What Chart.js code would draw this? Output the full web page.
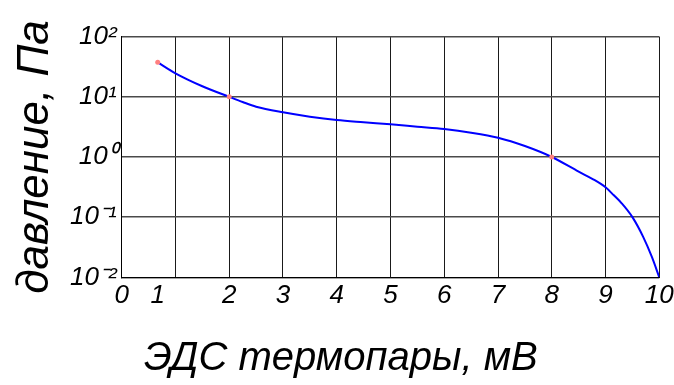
<!DOCTYPE html>
<html>
<head>
<meta charset="utf-8">
<script src="https://cdn.jsdelivr.net/npm/chart.js@4"></script>
<style>
    html, body { margin: 0; padding: 0; background: #fff; }
    #wrap { width: 674px; height: 385px; }
</style>
</head>
<body>
<div id="wrap"><canvas id="chart" width="674" height="385"></canvas></div>
<script>
// ЭДС термопары, мВ
const emf = [0.67, 1, 1.5, 2, 2.25, 2.5, 3, 3.5, 4, 4.5, 5, 5.5, 6, 6.5, 7, 7.5, 8, 8.5, 8.77, 9, 9.15, 9.3, 9.5, 9.7, 9.86, 10];
// давление, Па
const pressure = [37.5, 24.6, 15.0, 10, 8.2, 6.86, 5.53, 4.68, 4.12, 3.78, 3.49, 3.19, 2.92, 2.54, 2.09, 1.52, 1.0, 0.57, 0.426, 0.313, 0.233, 0.17, 0.1, 0.047, 0.022, 0.01];

// отмеченные точки
const markerEmf = [0.67, 2, 8];
const markerPressure = [37.5, 10, 1];

// подписи осей
const xTickValues = [0, 0.67, 1, 2, 3, 4, 5, 6, 7, 8, 9, 10];
const xTickLabels = ['0', '1', '', '2', '3', '4', '5', '6', '7', '8', '9', '10'];
const yTickValues = [0.01, 0.1, 1, 10, 100];
const yTickLabels = ['10⁻²', '10⁻¹', '10⁰', '10¹', '10²'];

const FONT = '"Liberation Sans", Arial, sans-serif';

const curve = emf.map((x, i) => ({ x: x, y: pressure[i] }));
const markers = markerEmf.map((x, i) => ({ x: x, y: markerPressure[i] }));

const ctx = document.getElementById('chart').getContext('2d');
new Chart(ctx, {
    type: 'line',
    data: {
        datasets: [
            {
                data: markers,
                showLine: false,
                pointRadius: 2.5,
                pointBorderWidth: 0,
                pointBackgroundColor: '#ff8080',
                borderColor: '#ff8080',
                order: 0
            },
            {
                data: curve,
                borderColor: '#0000ff',
                borderWidth: 2,
                pointRadius: 0,
                cubicInterpolationMode: 'monotone',
                fill: false,
                order: 1
            }
        ]
    },
    options: {
        responsive: false,
        animation: false,
        plugins: {
            legend: { display: false },
            tooltip: { enabled: false }
        },
        layout: { padding: { left: 0, right: 14.7, top: 36.7, bottom: 0 } },
        scales: {
            x: {
                type: 'linear',
                min: 0,
                max: 10,
                afterBuildTicks: scale => {
                    scale.ticks = xTickValues.map(v => ({ value: v }));
                },
                afterFit: scale => {
                    scale.height = 385 - 277.3;
                    scale.paddingLeft = 0;
                    scale.paddingRight = 0;
                },
                grid: {
                    color: c => (c.tick && c.tick.value === 0.67) ? 'rgba(0,0,0,0)' : '#1a1a1a',
                    lineWidth: 1,
                    drawTicks: false
                },
                border: { display: true, color: '#000', width: 1 },
                ticks: {
                    autoSkip: false,
                    maxRotation: 0,
                    padding: 3,
                    color: '#000',
                    font: { family: FONT, style: 'italic', size: 26 },
                    callback: (v, i) => xTickLabels[i]
                },
                title: {
                    display: true,
                    align: 'start',
                    text: '\u00A0\u00A0ЭДС термопары, мВ',
                    color: '#000',
                    padding: { top: 0, bottom: 2 },
                    font: { family: FONT, style: 'italic', size: 40 }
                }
            },
            y: {
                type: 'logarithmic',
                min: 0.01,
                max: 100,
                afterBuildTicks: scale => {
                    scale.ticks = yTickValues.map(v => ({ value: v }));
                },
                afterFit: scale => {
                    scale.width = 121.7;
                    scale.paddingTop = 0;
                    scale.paddingBottom = 0;
                },
                grid: {
                    color: '#4a4a4a',
                    lineWidth: 1.5,
                    drawTicks: false
                },
                border: { display: true, color: '#000', width: 1 },
                ticks: {
                    autoSkip: false,
                    padding: 5,
                    color: '#000',
                    font: { family: FONT, style: 'italic', size: 26 },
                    callback: (v, i) => yTickLabels[i]
                },
                title: {
                    display: true,
                    text: 'давление, Па',
                    color: '#000',
                    padding: { top: 9, bottom: 0 },
                    font: { family: FONT, style: 'italic', size: 44 }
                }
            }
        }
    }
});
</script>
</body>
</html>
